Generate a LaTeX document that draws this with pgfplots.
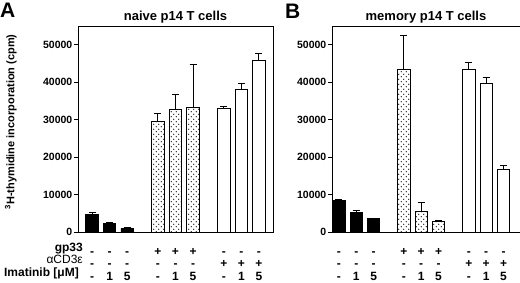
\documentclass[border=0pt]{standalone}
\usepackage{pgfplots}
\pgfplotsset{compat=1.18}
\usepackage{fontspec}
\setmainfont{Liberation Sans}
\usetikzlibrary{patterns}
\pgfdeclarepatternformonly{sparsedots}{\pgfqpoint{-1pt}{-1pt}}{\pgfqpoint{6pt}{6pt}}{\pgfqpoint{5pt}{5pt}}{%
  \pgfpathcircle{\pgfqpoint{1.25pt}{1.25pt}}{0.6pt}%
  \pgfpathcircle{\pgfqpoint{3.75pt}{3.75pt}}{0.6pt}%
  \pgfusepath{fill}}

\pgfplotstableread{
x y e
0 4800 300
1 2400 200
2 1000 100
}\Ablack
\pgfplotstableread{
x y e
3.75 29500 2100
4.75 32800 3900
5.75 33300 11300
}\Adots
\pgfplotstableread{
x y e
7.5 33000 500
8.5 38200 1500
9.5 45700 2100
}\Awhite
\pgfplotstableread{
x y e
0 8500 300
1 5100 700
2 3600 100
}\Bblack
\pgfplotstableread{
x y e
3.75 43500 9000
4.75 5400 2400
5.75 2900 100
}\Bdots
\pgfplotstableread{
x y e
7.5 43500 1800
8.5 39600 1600
9.5 16700 1000
}\Bwhite

\newcommand\tl[3]{\strut#1\\[-2.5pt]#2\\[-2.5pt]#3}

\begin{document}
\begin{tikzpicture}[font=\bfseries]
\pgfplotsset{
  panel/.style={
    scale only axis, height=206pt, clip=false,
    ymin=0, ymax=55000,
    ytick={0,10000,20000,30000,40000,50000},
    scaled y ticks=false,
    /pgf/number format/1000 sep={},
    /pgf/number format/assume math mode=true,
    yticklabel style={font=\fontsize{10.5}{12}\selectfont\bfseries, inner sep=1.5pt},
    ytick pos=left, tick align=outside,
    major tick length=4pt,
    major x tick style={draw=none},
    xtick={0,1,2,3.75,4.75,5.75,7.5,8.5,9.5},
    xticklabels={\tl{-}{-}{-},\tl{-}{-}{1},\tl{-}{-}{5},\tl{+}{-}{-},\tl{+}{-}{1},\tl{+}{-}{5},\tl{-}{+}{-},\tl{-}{+}{1},\tl{-}{+}{5}},
    xticklabel style={font=\fontsize{12}{15}\selectfont\bfseries, align=center, inner sep=0pt, yshift=-8.5pt},
    axis line style={line width=0.9pt},
    every tick/.style={line width=0.9pt, black},
    ybar, bar width=12.5pt, bar shift=0pt,
    every axis plot/.append style={draw=black, line width=0.8pt},
    error bars/y dir=plus, error bars/y explicit,
    error bars/error bar style={line width=0.9pt, black},
    error bars/error mark options={line width=0.9pt, black, mark size=3.5pt, rotate=90},
  }
}
\begin{axis}[panel, at={(0pt,0pt)}, anchor=south west, width=195pt,
  xmin=-0.8, xmax=10.3,
  ylabel={\textsuperscript{3}H-thymidine incorporation (cpm)},
  ylabel style={font=\fontsize{11}{13}\selectfont\bfseries, at={(rel axis cs:-0.344,0.534)}, anchor=center},
]
\addplot[fill=black] table[x=x, y=y, y error=e] {\Ablack};
\addplot[fill=white, postaction={pattern=sparsedots}] table[x=x, y=y, y error=e] {\Adots};
\addplot[fill=white] table[x=x, y=y, y error=e] {\Awhite};
\node[anchor=base, inner sep=0pt, font=\fontsize{13}{15}\selectfont\bfseries] at ([yshift=5pt]rel axis cs:0.5,1) {naive p14 T cells};
\node[anchor=base west, inner sep=0pt, font=\fontsize{21}{22}\selectfont\bfseries] at ([xshift=-78pt, yshift=8pt]rel axis cs:0,1) {A};
\node[anchor=north east, align=right, inner sep=0pt, font=\fontsize{12}{15}\selectfont\bfseries] at ([xshift=5pt, yshift=-8.5pt]rel axis cs:0,0) {\strut gp33\\[-2.5pt]{\mdseries αCD3ε}\hspace*{1pt}\\[-2.5pt]Imatinib [μM]\hspace*{4pt}};
\end{axis}
\begin{axis}[panel, at={(254pt,0pt)}, anchor=south west, width=188pt,
  xmin=-0.4, xmax=10.45,
]
\addplot[fill=black] table[x=x, y=y, y error=e] {\Bblack};
\addplot[fill=white, postaction={pattern=sparsedots}] table[x=x, y=y, y error=e] {\Bdots};
\addplot[fill=white] table[x=x, y=y, y error=e] {\Bwhite};
\node[anchor=base, inner sep=0pt, font=\fontsize{13}{15}\selectfont\bfseries] at ([yshift=5pt]rel axis cs:0.5,1) {memory p14 T cells};
\node[anchor=base west, inner sep=0pt, font=\fontsize{21}{22}\selectfont\bfseries] at ([xshift=-47pt, yshift=7pt]rel axis cs:0,1) {B};
\end{axis}
\pgfresetboundingbox
\path (-78pt,-51pt) rectangle (442pt,232pt);
\end{tikzpicture}
\end{document}
